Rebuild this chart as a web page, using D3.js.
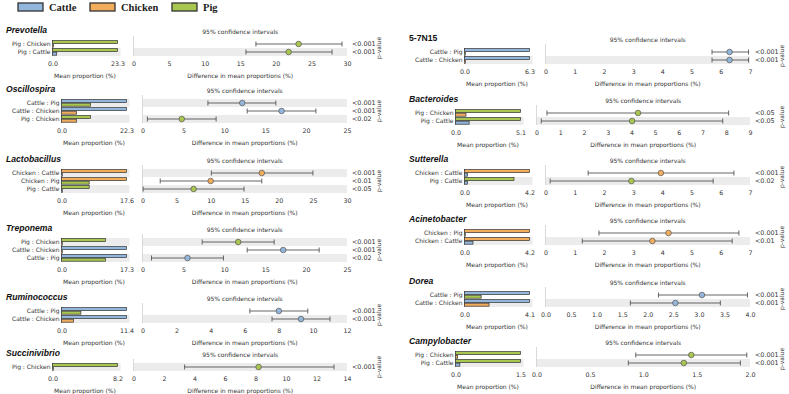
<!DOCTYPE html>
<html lang="en">
<head>
  <meta charset="UTF-8">
  <title>Extended error bars by genus</title>
  <script src="https://d3js.org/d3.v7.min.js"></script>
  <style>
    body { margin: 0; background: #fff; }
    svg { font-family: "DejaVu Sans", sans-serif; }
    .tick text { fill: #333; font-size: 6.3px; }
    .lbl { fill: #333; font-size: 6px; }
    .genus { font-family: "Liberation Sans", Arial, sans-serif; font-weight: bold; font-style: italic; font-size: 8.6px; fill: #111; }
  </style>
</head>
<body>
<svg width="789" height="394"></svg>

<script>
  const groups = ["Cattle", "Chicken", "Pig"];
  const groupColors = ["#93b6dd", "#f2ad5c", "#a9c650"];

  const genera = ["Prevotella", "Oscillospira", "Lactobacillus", "Treponema", "Ruminococcus", "Succinivibrio",
                  "5-7N15", "Bacteroides", "Sutterella", "Acinetobacter", "Dorea", "Campylobacter"];

  // mean proportion (%) of each group, per genus
  const cattleMean  = [1.5, 22.3, 0.05, 17.3, 11.4, 0.0, 6.3, 1.07, 0.2, 0.55, 4.1, 0.1];
  const chickenMean = [0.1, 5.2, 17.6, 0.05, 2.1, 0.0, 0.03, 0.82, 4.2, 4.2, 1.55, 0.05];
  const pigMean     = [23.3, 10.0, 7.5, 11.7, 3.4, 8.2, 0.03, 5.1, 3.2, 0.03, 1.05, 1.5];

  const comparisons = [
    ["Pig : Chicken", "Pig : Cattle"],
    ["Cattle : Pig", "Cattle : Chicken", "Pig : Chicken"],
    ["Chicken : Cattle", "Chicken : Pig", "Pig : Cattle"],
    ["Pig : Chicken", "Cattle : Chicken", "Cattle : Pig"],
    ["Cattle : Pig", "Cattle : Chicken"],
    ["Pig : Chicken"],
    ["Cattle : Pig", "Cattle : Chicken"],
    ["Pig : Chicken", "Pig : Cattle"],
    ["Chicken : Cattle", "Pig : Cattle"],
    ["Chicken : Pig", "Chicken : Cattle"],
    ["Cattle : Pig", "Cattle : Chicken"],
    ["Pig : Chicken", "Pig : Cattle"]
  ];

  const diffMean = [
    [23.2, 21.8], [12.2, 17.0, 4.8], [17.5, 10.0, 7.5], [11.7, 17.2, 5.5], [8.0, 9.3], [8.2],
    [6.3, 6.3], [4.28, 4.03], [3.95, 2.94], [4.21, 3.66], [3.06, 2.54], [1.45, 1.38]
  ];
  const ciLow = [
    [17.2, 15.8], [8.0, 12.8, 0.6], [10.1, 2.6, 0.1], [7.3, 12.8, 1.1], [6.3, 7.6], [3.35],
    [5.7, 5.7], [0.44, 0.2], [1.46, 0.16], [1.83, 1.26], [2.21, 1.66], [0.93, 0.86]
  ];
  const ciHigh = [
    [29.3, 27.9], [16.3, 21.2, 9.0], [25.0, 17.5, 14.9], [16.1, 21.6, 9.9], [9.7, 11.0], [13.15],
    [6.95, 6.95], [8.1, 7.85], [6.45, 5.74], [6.62, 6.39], [3.95, 3.42], [1.97, 1.91]
  ];
  const pValues = [
    ["<0.001", "<0.001"], ["<0.001", "<0.001", "<0.02"], ["<0.001", "<0.01", "<0.05"],
    ["<0.001", "<0.001", "<0.02"], ["<0.001", "<0.001"], ["<0.001"],
    ["<0.001", "<0.001"], ["<0.05", "<0.05"], ["<0.001", "<0.02"],
    ["<0.001", "<0.01"], ["<0.001", "<0.001"], ["<0.001", "<0.001"]
  ];

  const ciMax  = [30, 25, 30, 25, 12, 14, 7, 9, 7, 7, 4, 2];
  const ciStep = [5, 5, 5, 5, 2, 2, 1, 1, 1, 1, 0.5, 0.5];

  const means = { Cattle: cattleMean, Chicken: chickenMean, Pig: pigMean };
  const color = d3.scaleOrdinal().domain(groups).range(groupColors);

  const svg = d3.select("svg");

  // layout
  const colX = [11, 414];
  const firstRow = [44, 103, 173, 242, 311, 367, 52, 113, 173, 233, 295, 355];
  const rowH = 8, barW = 65, gap = 16, panelRight = 336;

  // legend
  const legend = svg.append("g");
  const legX = [18, 90, 172];
  groups.forEach((gname, i) => {
    legend.append("rect")
      .attr("x", legX[i]).attr("y", 3).attr("width", 25).attr("height", 8)
      .attr("fill", color(gname)).attr("stroke", "#333").attr("stroke-width", 1.3);
    legend.append("text")
      .attr("x", legX[i] + 31).attr("y", 11)
      .attr("font-family", "'Liberation Serif', 'Times New Roman', serif")
      .attr("font-weight", "bold").attr("font-size", 10.5).attr("fill", "#222")
      .text(gname);
  });

  // measure label widths
  const measure = svg.append("text").attr("class", "lbl");
  const textW = s => { measure.text(s); return measure.node().getComputedTextLength(); };

  genera.forEach((genus, gi) => {
    const cx = colX[gi < 6 ? 0 : 1];
    const comps = comparisons[gi].map(c => c.split(" : "));
    const n = comps.length;
    const labW = d3.max(comparisons[gi], textW);
    const bx0 = cx + labW + 3;
    const cix0 = bx0 + barW + gap;
    const cix1 = cx + panelRight;
    const top = firstRow[gi] - rowH / 2;

    const g = svg.append("g");

    const y = d3.scaleBand().domain(d3.range(n)).range([top, top + n * rowH]);

    const involved = Array.from(new Set(comps.flat()));
    const barMax = d3.max(involved, k => means[k][gi]);
    const xb = d3.scaleLinear().domain([0, barMax]).range([bx0, bx0 + barW]);
    const xc = d3.scaleLinear().domain([0, ciMax[gi]]).range([cix0, cix1]);

    // title
    g.append("text")
      .attr("class", "genus")
      .attr("x", cx - 5).attr("y", firstRow[gi] - 11)
      .style("font-style", genus === "5-7N15" ? "normal" : "italic")
      .text(genus);
    g.append("text")
      .attr("class", "lbl")
      .attr("x", (cix0 + cix1) / 2).attr("y", firstRow[gi] - 10)
      .attr("text-anchor", "middle")
      .text("95% confidence intervals");

    // stripes
    const striped = d3.range(n).filter(i => (n - 1 - i) % 2 === 0);
    g.selectAll(".sb").data(striped).join("rect")
      .attr("x", bx0).attr("y", i => y(i)).attr("width", barW + 3).attr("height", rowH)
      .attr("fill", "#ececec");
    g.selectAll(".sc").data(striped).join("rect")
      .attr("x", cix0).attr("y", i => y(i)).attr("width", cix1 - cix0).attr("height", rowH)
      .attr("fill", "#ececec");

    // left guide lines
    g.append("line")
      .attr("x1", cix0).attr("x2", cix0).attr("y1", top - 4).attr("y2", top + n * rowH)
      .attr("stroke", "#cfcfcf").attr("stroke-width", 0.8);
    g.append("line")
      .attr("x1", bx0).attr("x2", bx0).attr("y1", top).attr("y2", top + n * rowH)
      .attr("stroke", "#999").attr("stroke-width", 0.8);

    // row labels
    g.selectAll(".rl").data(comparisons[gi]).join("text")
      .attr("class", "lbl")
      .attr("x", bx0 - 2).attr("y", (d, i) => y(i) + rowH / 2 + 2)
      .attr("text-anchor", "end")
      .text(d => d);

    // bars
    const bars = [];
    comps.forEach((pair, i) => pair.forEach((k, j) => bars.push({ i, j, k, v: means[k][gi] })));
    g.selectAll(".bar").data(bars).join("rect")
      .attr("x", bx0)
      .attr("y", d => y(d.i) + 0.6 + d.j * 3.6)
      .attr("width", d => Math.max(xb(d.v) - bx0, 0.8))
      .attr("height", 3)
      .attr("fill", d => color(d.k))
      .attr("stroke", "#333").attr("stroke-width", 0.7);

    // confidence intervals
    const ci = d3.range(n).map(i => ({ i, lo: ciLow[gi][i], hi: ciHigh[gi][i], m: diffMean[gi][i], k: comps[i][0] }));
    const cy = d => y(d.i) + rowH / 2;
    g.selectAll(".ci").data(ci).join("line")
      .attr("x1", d => xc(d.lo)).attr("x2", d => xc(d.hi))
      .attr("y1", cy).attr("y2", cy)
      .attr("stroke", "#555").attr("stroke-width", 0.9);
    ["lo", "hi"].forEach(end => {
      g.selectAll(".cap-" + end).data(ci).join("line")
        .attr("x1", d => xc(d[end])).attr("x2", d => xc(d[end]))
        .attr("y1", d => cy(d) - 2.5).attr("y2", d => cy(d) + 2.5)
        .attr("stroke", "#555").attr("stroke-width", 0.9);
    });
    g.selectAll(".dot").data(ci).join("circle")
      .attr("cx", d => xc(d.m)).attr("cy", cy).attr("r", 2.8)
      .attr("fill", d => color(d.k)).attr("stroke", "#555").attr("stroke-width", 0.7);

    // p-values
    g.selectAll(".pv").data(pValues[gi]).join("text")
      .attr("class", "lbl")
      .attr("x", cix1 + 5).attr("y", (d, i) => y(i) + rowH / 2 + 2.2)
      .style("font-size", "6.4px")
      .text(d => d);
    g.append("text")
      .attr("class", "lbl")
      .attr("transform", `translate(${cix1 + 34},${top + n * rowH / 2}) rotate(-90)`)
      .attr("text-anchor", "middle")
      .text("p-value");

    // axes
    const axisY = top + n * rowH + 2;
    const fmt = ciStep[gi] < 1 ? d3.format(".1f") : d3.format("d");
    const ax1 = g.append("g")
      .attr("transform", `translate(0,${axisY})`)
      .call(d3.axisBottom(xb).tickValues([0, barMax]).tickFormat(d3.format(".1f")).tickSize(0).tickPadding(4));
    const ax2 = g.append("g")
      .attr("transform", `translate(0,${axisY})`)
      .call(d3.axisBottom(xc).tickValues(d3.range(0, ciMax[gi] + 1e-9, ciStep[gi])).tickFormat(fmt).tickSize(0).tickPadding(4));
    ax1.select(".domain").remove();
    ax2.select(".domain").remove();
    [ax1, ax2].forEach(a => a.selectAll("text").attr("font-family", "'DejaVu Sans', sans-serif"));

    g.append("text")
      .attr("class", "lbl")
      .attr("x", bx0 + barW / 2).attr("y", axisY + 20)
      .attr("text-anchor", "middle")
      .text("Mean proportion (%)");
    g.append("text")
      .attr("class", "lbl")
      .attr("x", (cix0 + cix1) / 2).attr("y", axisY + 20)
      .attr("text-anchor", "middle")
      .text("Difference in mean proportions (%)");
  });

  measure.remove();
</script>
</body>
</html>
